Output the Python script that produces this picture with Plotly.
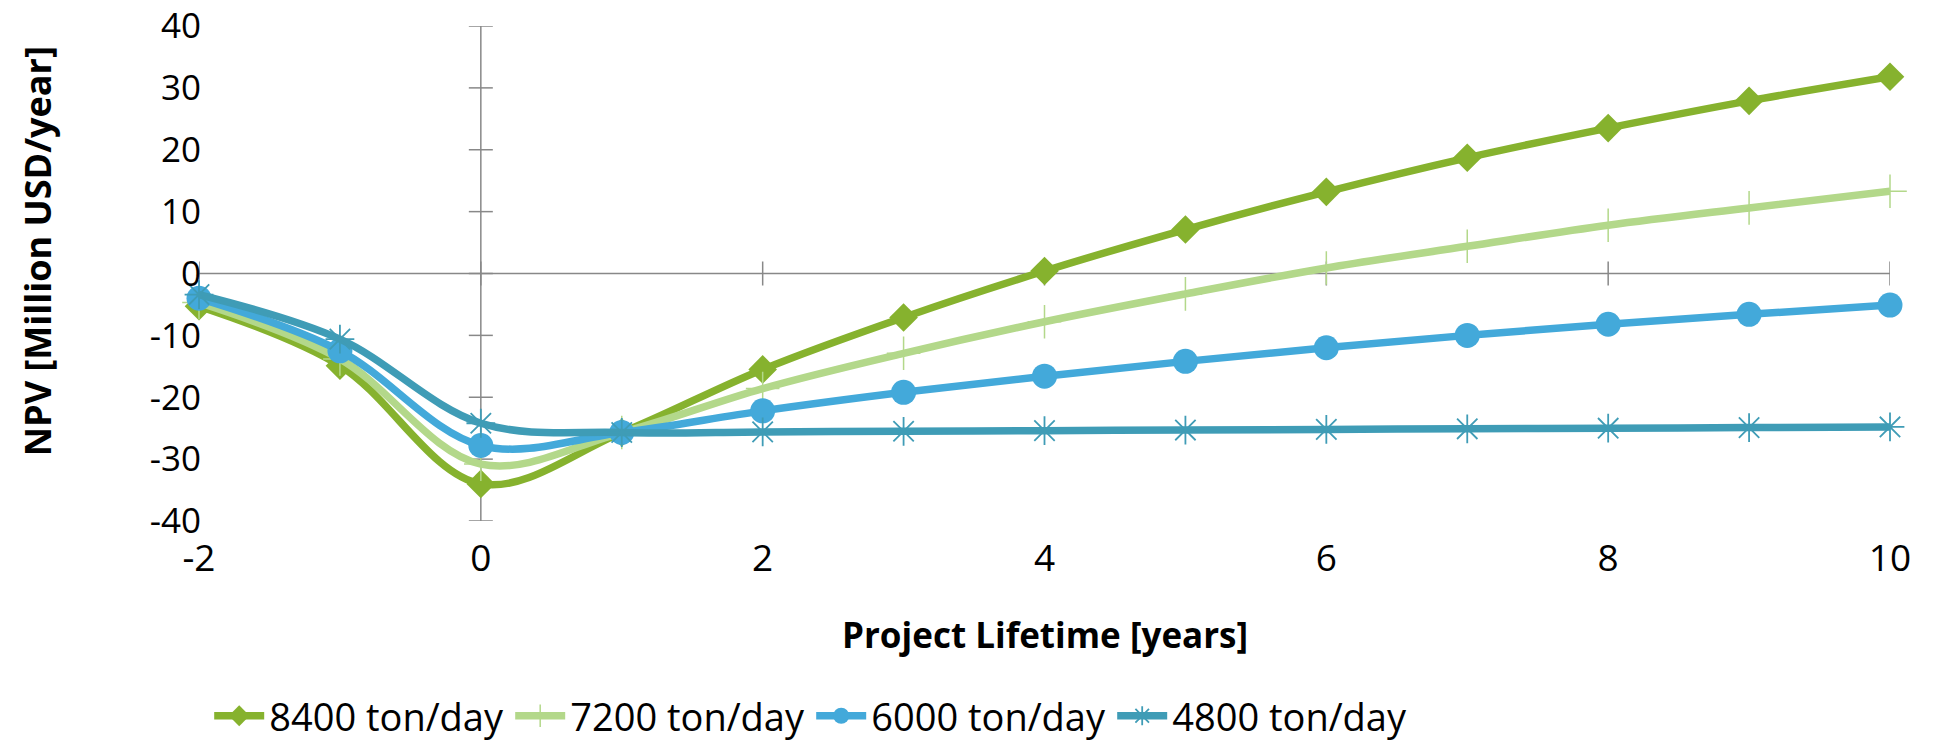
import plotly.graph_objects as go

# ---------------- data ----------------
years = [-2, -1, 0, 1, 2, 3, 4, 5, 6, 7, 8, 9, 10]
npv_8400 = [-5.3, -14.9, -34.0, -25.7, -15.5, -7.1, 0.4, 7.1, 13.2, 18.7, 23.5, 27.9, 31.8]
npv_7200 = [-4.7, -13.8, -30.8, -25.7, -18.6, -12.9, -7.8, -3.3, 0.9, 4.4, 7.8, 10.6, 13.3]
npv_6000 = [-4.0, -12.5, -27.8, -25.7, -22.2, -19.2, -16.6, -14.2, -12.0, -10.0, -8.2, -6.6, -5.1]
npv_4800 = [-3.4, -10.6, -24.2, -25.7, -25.6, -25.5, -25.4, -25.3, -25.2, -25.1, -25.0, -24.9, -24.8]

series_names = ["8400 ton/day", "7200 ton/day", "6000 ton/day", "4800 ton/day"]

x_tickvals = [-2, 0, 2, 4, 6, 8, 10]
x_ticktext = ["-2", "0", "2", "4", "6", "8", "10"]
y_tickvals = [-40, -30, -20, -10, 0, 10, 20, 30, 40]
y_ticktext = ["-40", "-30", "-20", "-10", "0", "10", "20", "30", "40"]

x_title = "Project Lifetime [years]"
y_title = "NPV [Million USD/year]"

# ---------------- style ----------------
C_DKGREEN = "#86B22E"
C_LTGREEN = "#B3D88A"
C_BLUE = "#43A9DA"
C_TEAL = "#3F9CB6"
AXIS_COL = "#888888"
FONT = "Open Sans"
LW = 7.5

fig = go.Figure()

fig.add_trace(go.Scatter(
    x=years, y=npv_8400, name=series_names[0], mode="lines+markers",
    line=dict(color=C_DKGREEN, width=LW, shape="spline", smoothing=1.0),
    marker=dict(symbol="diamond", size=22, color=C_DKGREEN),
    cliponaxis=False))
fig.add_trace(go.Scatter(
    x=years, y=npv_7200, name=series_names[1], mode="lines+markers",
    line=dict(color=C_LTGREEN, width=LW, shape="spline", smoothing=1.0),
    marker=dict(symbol="cross-thin", size=24, color=C_LTGREEN,
                line=dict(color=C_LTGREEN, width=1.5)),
    cliponaxis=False))
fig.add_trace(go.Scatter(
    x=years, y=npv_6000, name=series_names[2], mode="lines+markers",
    line=dict(color=C_BLUE, width=LW, shape="spline", smoothing=1.0),
    marker=dict(symbol="circle", size=25, color=C_BLUE),
    cliponaxis=False))
fig.add_trace(go.Scatter(
    x=years, y=npv_4800, name=series_names[3], mode="lines+markers",
    line=dict(color=C_TEAL, width=LW, shape="spline", smoothing=1.0),
    marker=dict(symbol="asterisk-open", size=24, color=C_TEAL,
                line=dict(color=C_TEAL, width=1.8)),
    cliponaxis=False))

# axis lines crossing at the origin, with cross tick marks
shapes = [
    dict(type="line", xref="x", yref="y", x0=years[0], x1=years[-1], y0=0, y1=0,
         line=dict(color=AXIS_COL, width=1.5), layer="below"),
    dict(type="line", xref="x", yref="y", x0=0, x1=0,
         y0=y_tickvals[0], y1=y_tickvals[-1],
         line=dict(color=AXIS_COL, width=1.5), layer="below"),
]
for xv in x_tickvals:
    shapes.append(dict(type="line", xref="x", yref="y", ysizemode="pixel",
                       yanchor=0, x0=xv, x1=xv, y0=-12, y1=12,
                       line=dict(color=AXIS_COL, width=1.5), layer="below"))
for yv in y_tickvals:
    shapes.append(dict(type="line", xref="x", yref="y", xsizemode="pixel",
                       xanchor=0, y0=yv, y1=yv, x0=-12, x1=12,
                       line=dict(color=AXIS_COL, width=1.5), layer="below"))

fig.update_layout(
    width=1937, height=743,
    margin=dict(l=199, r=47, t=26, b=222, autoexpand=False),
    paper_bgcolor="white", plot_bgcolor="white",
    font=dict(family=FONT, size=36, color="black"),
    shapes=shapes,
    showlegend=True,
    legend=dict(orientation="h", xref="container", yref="container",
                x=0.108, xanchor="left", y=0.0363, yanchor="middle",
                entrywidth=236, entrywidthmode="pixels", itemwidth=50,
                font=dict(family=FONT, size=38, color="black"),
                bgcolor="rgba(0,0,0,0)", traceorder="normal"),
    annotations=[
        dict(text="<b>" + x_title + "</b>", xref="paper", yref="paper",
             x=0.5, y=-0.2283, xanchor="center", yanchor="middle",
             showarrow=False, font=dict(family=FONT, size=35, color="black")),
        dict(text="<b>" + y_title + "</b>", xref="paper", yref="paper",
             x=-0.0958, y=0.545, xanchor="center", yanchor="middle",
             textangle=-90, showarrow=False,
             font=dict(family=FONT, size=36, color="black")),
    ],
)
fig.update_xaxes(range=[years[0], years[-1]], tickvals=x_tickvals, ticktext=x_ticktext,
                 showgrid=False, zeroline=False, showline=False, ticks="",
                 tickfont=dict(size=37),
                 ticklabelstandoff=12, ticklabeloverflow="allow",
                 fixedrange=True, automargin=False)
fig.update_yaxes(range=[y_tickvals[0], y_tickvals[-1]], tickvals=y_tickvals, ticktext=y_ticktext,
                 showgrid=False, zeroline=False, showline=False, ticks="",
                 tickfont=dict(size=35),
                 ticklabelstandoff=-3, ticklabeloverflow="allow",
                 fixedrange=True, automargin=False)

fig.write_html("out.html", include_plotlyjs=True,
               config={"displayModeBar": False},
               post_script="document.body.style.margin='0';")
